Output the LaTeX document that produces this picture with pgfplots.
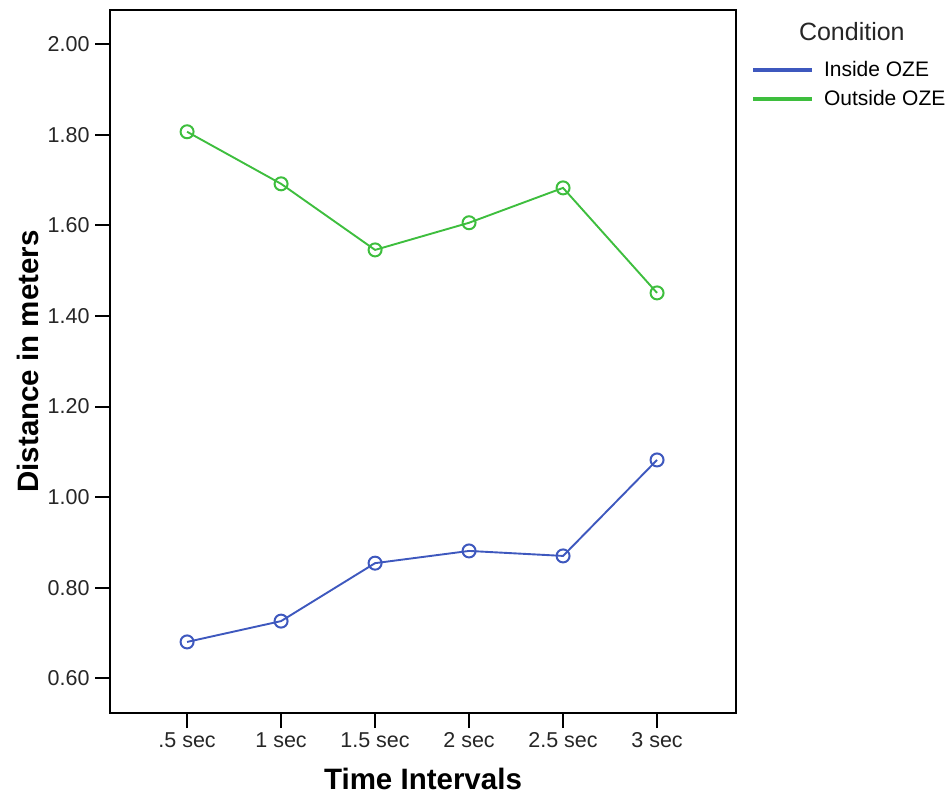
\documentclass[border=0pt]{standalone}
\usepackage{pgfplots}
\pgfplotsset{compat=1.18}
\usepackage{fontspec}
\setmainfont{Liberation Sans}
\definecolor{spssblue}{RGB}{62,88,190}
\definecolor{spssgreen}{RGB}{62,190,62}
\begin{document}
\begin{tikzpicture}[x=1pt,y=1pt]
\path[use as bounding box] (0,0) rectangle (950,800);
\begin{axis}[
  at={(110pt,87pt)}, anchor=south west,
  scale only axis, width=626pt, height=703pt,
  xmin=-0.82, xmax=5.84, ymin=0.523, ymax=2.076,
  xtick={0,1,2,3,4,5},
  xticklabels={.5 sec,1 sec,1.5 sec,2 sec,2.5 sec,3 sec},
  ytick={0.6,0.8,1.0,1.2,1.4,1.6,1.8,2.0},
  y tick label style={/pgf/number format/fixed, /pgf/number format/fixed zerofill, /pgf/number format/precision=2},
  /pgf/number format/assume math mode=true,
  tick align=outside, tick pos=left,
  major tick length=15pt,
  tick style={line width=2pt, black},
  axis line style={line width=2.5pt},
  ticklabel style={font=\fontsize{21.5}{24}\selectfont, text=black!85},
  xticklabel style={yshift=-1pt},
  yticklabel style={xshift=-2pt},
  xlabel={\textbf{Time Intervals}},
  ylabel={\textbf{Distance in meters}},
  label style={font=\fontsize{29.5}{32}\selectfont},
  xlabel style={yshift=-14pt},
  ylabel style={yshift=2pt},
  legend style={at={(1.027,0.93)}, anchor=north west, draw=none, fill=none,
    font=\fontsize{21}{24}\selectfont, row sep=8.5pt, inner sep=0pt},
  legend cell align=left,
  clip=false,
]
\addplot[spssblue, line width=1.9pt, mark=o, mark size=6.5pt, mark options={line width=2pt, fill=none},
  legend image code/.code={\fill[spssblue] (0pt,-1pt) rectangle (57pt,1pt);}]
  coordinates {(0,0.680) (1,0.726) (2,0.854) (3,0.881) (4,0.870) (5,1.082)};
\addlegendentry{\hspace{10pt}Inside OZE}
\addplot[spssgreen, line width=1.9pt, mark=o, mark size=6.5pt, mark options={line width=2pt, fill=none},
  legend image code/.code={\fill[spssgreen] (0pt,-1pt) rectangle (57pt,1pt);}]
  coordinates {(0,1.807) (1,1.692) (2,1.546) (3,1.606) (4,1.683) (5,1.451)};
\addlegendentry{\hspace{10pt}Outside OZE}
\node[font=\fontsize{25}{28}\selectfont, text=black!85] at (rel axis cs:1.185,0.969) {Condition};
\end{axis}
\end{tikzpicture}
\end{document}
